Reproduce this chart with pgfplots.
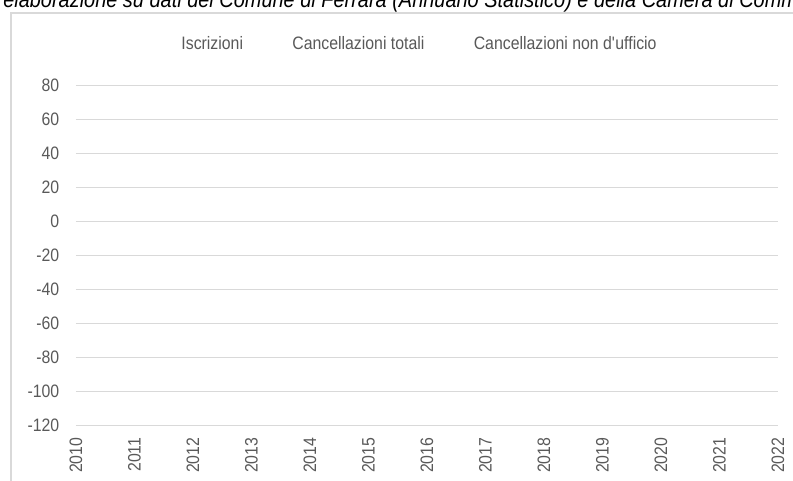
\documentclass[border=0pt]{standalone}
\usepackage{pgfplots}
\pgfplotsset{compat=1.18}
\usepackage{fontspec}
\setmainfont{Liberation Sans}[FakeStretch=0.88]
\definecolor{txt}{HTML}{595959}
\definecolor{gridc}{HTML}{D9D9D9}
\begin{document}
\begin{tikzpicture}
\useasboundingbox (0,0) rectangle (594.75pt,-360pt);
\clip (0,0) rectangle (594.75pt,-360pt);
\draw[gridc, line width=0.9pt] (8.25pt,-9.75pt) rectangle (700pt,-420pt);
\node[anchor=base west, inner sep=0pt, font=\fontsize{17}{20}\selectfont\itshape, text=black] at (2.25pt,-5.6pt)
  {elaborazione su dati del Comune di Ferrara (Annuario Statistico) e della Camera di Commercio};
\begin{axis}[
  at={(57pt,-63.75pt)}, anchor=north west,
  scale only axis, width=526.5pt, height=255pt,
  xmin=2010, xmax=2022, ymin=-120, ymax=80,
  xtick={2010,2011,...,2022}, ytick={-120,-100,...,80},
  /pgf/number format/assume math mode=true,
  /pgf/number format/1000 sep={},
  axis line style={draw=none},
  major tick length=0pt,
  ymajorgrids, grid style={gridc, line width=0.75pt},
  tick label style={font=\fontsize{13.5}{16}\selectfont, text=txt},
  xticklabel style={rotate=90, anchor=east},
  yticklabel style={xshift=-9pt},
  xticklabel shift=6pt,
  legend columns=3,
  legend style={draw=none, fill=none, at={(0.5,1.12)}, anchor=center, xshift=-6pt,
    font=\fontsize{13.5}{16}\selectfont, text=txt,
    /tikz/every even column/.append style={column sep=33pt}},
]
\addplot[draw=none, forget plot] coordinates {(2010,0)};
\addlegendimage{empty legend}\addlegendentry{Iscrizioni}
\addlegendimage{empty legend}\addlegendentry{Cancellazioni totali}
\addlegendimage{empty legend}\addlegendentry{Cancellazioni non d\textquotesingle ufficio}
\end{axis}
\end{tikzpicture}
\end{document}
